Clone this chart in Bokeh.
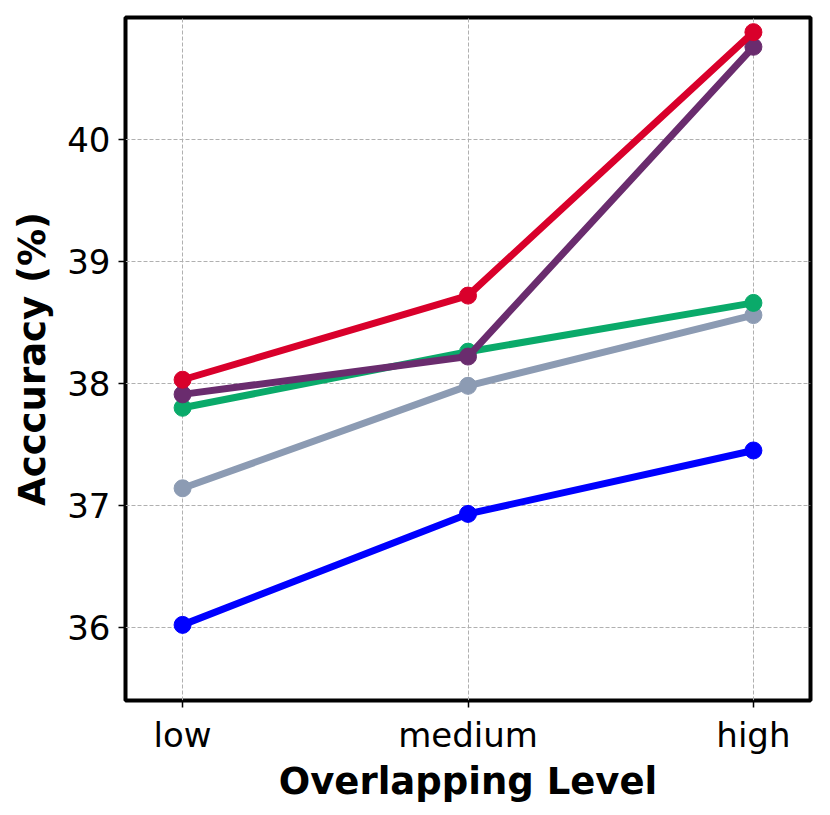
from bokeh.plotting import figure
from bokeh.models import Range1d, FixedTicker
from bokeh.embed import file_html
from bokeh.resources import INLINE

levels = ["low", "medium", "high"]
x_pos = [0, 1, 2]
series_red = [38.03, 38.72, 40.88]
series_purple = [37.91, 38.22, 40.76]
series_green = [37.80, 38.26, 38.66]
series_gray = [37.14, 37.98, 38.56]
series_blue = [36.02, 36.93, 37.45]

series = [
    (series_blue, "#0000ff"),
    (series_gray, "#8c9bb3"),
    (series_green, "#0aaa6a"),
    (series_purple, "#6a2c6e"),
    (series_red, "#d9002b"),
]

p = figure(width=822, height=807, output_backend="svg", toolbar_location=None,
           x_range=Range1d(-0.2, 2.2), y_range=Range1d(35.4, 41.0),
           min_border_left=125, min_border_top=17, min_border_right=12, min_border_bottom=107)

for ys, c in series:
    p.line(x_pos, ys, line_color=c, line_width=7)
    p.scatter(x_pos, ys, size=17, fill_color=c, line_color=c)

p.outline_line_color = "black"
p.outline_line_width = 4
p.outline_line_alpha = 1.0

p.xaxis.ticker = FixedTicker(ticks=x_pos)
p.xaxis.major_label_overrides = {i: l for i, l in zip(x_pos, levels)}
p.yaxis.ticker = FixedTicker(ticks=[36, 37, 38, 39, 40])

for ax in (p.xaxis, p.yaxis):
    ax.axis_line_color = None
    ax.major_tick_out = 7
    ax.major_tick_in = 0
    ax.major_tick_line_width = 1.5
    ax.major_tick_line_color = "black"
    ax.minor_tick_line_color = None
    ax.major_label_text_font = "DejaVu Sans"
    ax.major_label_text_font_size = "34px"
    ax.major_label_text_color = "black"
    ax.axis_label_text_font = "DejaVu Sans"
    ax.axis_label_text_font_size = "37px"
    ax.axis_label_text_font_style = "bold"
    ax.axis_label_text_color = "black"

p.xaxis.axis_label = "Overlapping Level"
p.yaxis.axis_label = "Acccuracy (%)"
p.xaxis.major_label_standoff = 7
p.yaxis.major_label_standoff = 8
p.xaxis.axis_label_standoff = 2
p.yaxis.axis_label_standoff = 10

p.grid.grid_line_color = "#b0b0b0"
p.grid.grid_line_dash = "4 2"
p.grid.grid_line_width = 1

p.background_fill_color = "white"
p.border_fill_color = "white"

open("out.html", "w").write(file_html(p, INLINE))
